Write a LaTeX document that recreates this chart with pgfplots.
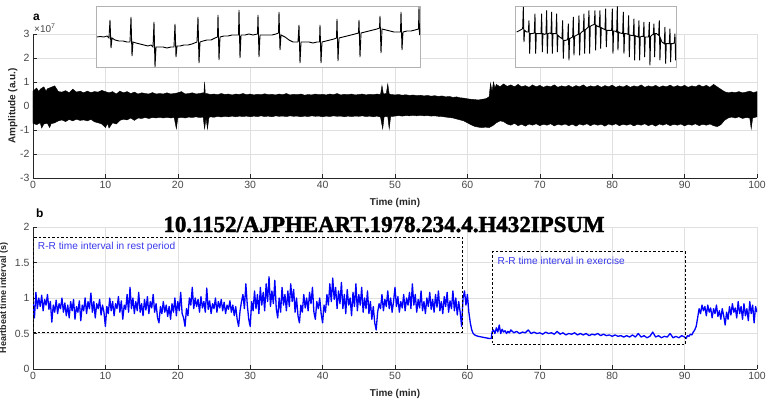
\documentclass[border=0pt]{standalone}
\usepackage{fontspec}
\setmainfont{Liberation Sans}
\newfontfamily\wmfont[BoldFeatures={FakeBold=1.8}]{Liberation Serif}
\usepackage{pgfplots}
\pgfplotsset{compat=1.18}
\definecolor{axgray}{gray}{0.15}
\definecolor{tickgray}{gray}{0.28}
\definecolor{gridgray}{gray}{0.88}
\definecolor{rrtext}{rgb}{0.22,0.22,0.92}
\definecolor{rrline}{rgb}{0,0,1}
\pgfplotsset{
 mainax/.style={scale only axis, width=724bp, xmin=0, xmax=100, xtick={0,10,...,100},
   axis x line*=bottom, axis y line*=left,
   axis line style={axgray, line width=0.5bp}, tick style={axgray, line width=0.5bp},
   tick align=inside, major tick length=4bp, grid=major, grid style={gridgray, line width=0.4bp},
   tick label style={font=\fontsize{10.5}{11}\selectfont, text=tickgray},
   /pgf/number format/assume math mode=true,
   label style={font=\bfseries\fontsize{10}{11}\selectfont, text=axgray},
   xlabel style={yshift=-3bp}},
 inset/.style={scale only axis, xtick=\empty, ytick=\empty, y dir=reverse,
   axis line style={gray!60, line width=0.6bp}, axis background/.style={fill=white}}
}
\begin{document}
\begin{tikzpicture}
\useasboundingbox (0,0) rectangle (768bp,-400bp);
% ---------------- panel a ----------------
\begin{axis}[mainax, at={(33bp,-178bp)}, anchor=south west, height=144bp,
  ymin=-3, ymax=3, ytick={-3,-2,-1,0,1,2,3},
  xlabel={Time (min)}, ylabel={Amplitude (a.u.)}, ylabel style={yshift=-4bp}]
\addplot[fill=black, draw=black, line width=0.4bp] coordinates {
(0,0.62)(0.5,0.75)(0.8,0.6)(1,0.7)(1.5,0.8)(1.8,0.62)(2,0.72)(2.5,0.78)(3,0.84)(3.5,0.6)(4,0.58)(4.5,0.64)(5,0.55)(5.5,0.7)(6,0.58)(6.5,0.62)(7,0.55)(7.5,0.62)(8,0.56)(8.5,0.6)(9,0.58)(9.5,0.65)(10,0.6)(10.5,0.55)(11,0.6)(11.5,0.5)(12,0.62)(12.5,0.55)(13,0.6)(13.5,0.52)(14,0.58)(14.5,0.5)(15,0.55)(15.5,0.52)(16,0.5)(16.5,0.56)(17,0.5)(17.5,0.52)(18,0.5)(18.5,0.55)(19,0.5)(19.5,0.52)(20,0.55)(20.5,0.6)(21,0.5)(21.5,0.52)(22,0.55)(22.5,0.5)(23,0.52)(23.5,0.55)(23.6,0.5)(23.7,1.0)(23.8,0.5)(24,0.52)(24.5,0.48)(25,0.5)(25.5,0.47)(26,0.52)(26.5,0.48)(27,0.5)(27.5,0.46)(28,0.5)(28.5,0.48)(29,0.52)(29.5,0.47)(30,0.5)(30.5,0.46)(31,0.49)(31.5,0.47)(32,0.51)(32.5,0.47)(33,0.49)(33.5,0.46)(34,0.5)(34.5,0.47)(35,0.52)(35.5,0.46)(36,0.49)(36.5,0.47)(37,0.5)(37.5,0.45)(38,0.48)(38.5,0.46)(39,0.5)(39.5,0.47)(40,0.49)(40.5,0.46)(41,0.5)(41.5,0.47)(42,0.52)(42.5,0.46)(43,0.49)(43.5,0.47)(44,0.5)(44.5,0.46)(45,0.48)(45.5,0.5)(46,0.46)(46.5,0.49)(47,0.47)(47.5,0.5)(48,0.48)(48.2,0.85)(48.4,0.5)(48.8,0.52)(49,0.92)(49.2,0.5)(49.5,0.48)(50,0.46)(50.5,0.48)(51,0.45)(51.5,0.47)(52,0.44)(52.5,0.46)(53,0.43)(53.5,0.45)(54,0.42)(54.5,0.44)(55,0.41)(55.5,0.43)(56,0.4)(56.5,0.42)(57,0.38)(57.5,0.4)(58,0.36)(58.5,0.38)(59,0.34)(59.5,0.33)(60,0.3)(60.5,0.28)(61,0.27)(61.5,0.25)(62,0.28)(62.5,0.3)(63,0.38)(63.2,0.95)(63.4,0.6)(63.6,1.0)(63.8,0.75)(64,0.9)(64.5,0.8)(65,0.92)(65.5,0.82)(66,0.88)(66.5,0.8)(67,0.9)(67.5,0.8)(68,0.85)(68.5,0.78)(69,0.88)(69.5,0.8)(70,0.86)(70.5,0.78)(71,0.84)(71.5,0.8)(72,0.88)(72.5,0.78)(73,0.84)(73.5,0.8)(74,0.86)(74.5,0.78)(75,0.85)(75.5,0.8)(76,0.88)(76.5,0.78)(77,0.84)(77.5,0.8)(78,0.86)(78.5,0.78)(79,0.85)(79.5,0.8)(80,0.87)(80.5,0.78)(81,0.84)(81.5,0.79)(82,0.86)(82.5,0.78)(83,0.84)(83.5,0.8)(84,0.88)(84.5,0.78)(85,0.84)(85.5,0.8)(86,0.86)(86.5,0.78)(87,0.84)(87.5,0.8)(88,0.87)(88.5,0.79)(89,0.85)(89.5,0.8)(90,0.86)(90.5,0.78)(91,0.84)(91.5,0.8)(92,0.88)(92.5,0.8)(93,0.86)(93.5,0.78)(94,0.9)(94.5,0.8)(95,0.7)(95.5,0.6)(96,0.55)(96.5,0.58)(97,0.56)(97.5,0.6)(98,0.55)(98.5,0.58)(99,0.62)(99.5,0.56)(100,0.6)} \closedcycle;
\addplot[fill=black, draw=black, line width=0.4bp] coordinates {
(0,-0.72)(0.5,-0.78)(1,-0.7)(1.2,-0.92)(1.5,-0.75)(2,-0.72)(2.3,-0.9)(2.5,-0.74)(3,-0.7)(3.5,-0.62)(4,-0.58)(4.5,-0.65)(5,-0.56)(5.5,-0.62)(6,-0.55)(6.5,-0.6)(7,-0.58)(7.5,-0.62)(8,-0.56)(8.5,-0.66)(9,-0.7)(9.5,-0.75)(10,-0.9)(10.3,-0.72)(10.5,-0.92)(11,-0.7)(11.5,-0.75)(12,-0.6)(12.5,-0.55)(13,-0.58)(13.5,-0.5)(14,-0.6)(14.5,-0.5)(15,-0.52)(15.5,-0.48)(16,-0.52)(16.5,-0.48)(17,-0.5)(17.5,-0.47)(18,-0.5)(18.5,-0.47)(19,-0.5)(19.5,-0.48)(19.8,-0.95)(20,-0.5)(20.5,-0.47)(21,-0.5)(21.5,-0.46)(22,-0.48)(22.5,-0.45)(23,-0.48)(23.5,-0.46)(23.7,-0.95)(23.9,-0.5)(24.1,-0.95)(24.3,-0.48)(24.5,-0.45)(25,-0.47)(25.5,-0.43)(26,-0.46)(26.5,-0.43)(27,-0.45)(27.5,-0.42)(28,-0.45)(28.5,-0.42)(29,-0.44)(29.5,-0.42)(30,-0.45)(30.5,-0.42)(31,-0.44)(31.5,-0.41)(32,-0.44)(32.5,-0.42)(33,-0.45)(33.5,-0.41)(34,-0.43)(34.5,-0.42)(35,-0.44)(35.5,-0.41)(36,-0.43)(36.5,-0.42)(37,-0.45)(37.5,-0.42)(38,-0.44)(38.5,-0.41)(39,-0.43)(39.5,-0.42)(40,-0.45)(40.5,-0.42)(41,-0.44)(41.5,-0.41)(42,-0.43)(42.5,-0.42)(43,-0.45)(43.5,-0.42)(44,-0.44)(44.5,-0.42)(45,-0.43)(45.5,-0.41)(46,-0.44)(46.5,-0.42)(47,-0.45)(47.5,-0.42)(48,-0.46)(48.3,-0.95)(48.5,-0.45)(49,-0.44)(49.2,-0.95)(49.4,-0.44)(50,-0.42)(50.5,-0.4)(51,-0.42)(51.5,-0.4)(52,-0.41)(52.5,-0.39)(53,-0.41)(53.5,-0.39)(54,-0.41)(54.5,-0.4)(55,-0.42)(55.5,-0.41)(56,-0.43)(56.5,-0.44)(57,-0.46)(57.5,-0.48)(58,-0.5)(58.5,-0.54)(59,-0.58)(59.5,-0.62)(60,-0.7)(60.5,-0.78)(61,-0.85)(61.5,-0.88)(62,-0.9)(62.5,-0.88)(63,-0.9)(63.5,-0.82)(64,-0.7)(64.5,-0.62)(65,-0.65)(65.5,-0.75)(66,-0.8)(66.5,-0.72)(67,-0.82)(67.5,-0.76)(68,-0.84)(68.5,-0.75)(69,-0.8)(69.5,-0.74)(70,-0.82)(70.5,-0.76)(71,-0.8)(71.5,-0.74)(72,-0.83)(72.5,-0.76)(73,-0.8)(73.5,-0.75)(74,-0.82)(74.5,-0.76)(75,-0.84)(75.5,-0.75)(76,-0.8)(76.5,-0.74)(77,-0.82)(77.5,-0.75)(78,-0.8)(78.5,-0.76)(79,-0.84)(79.5,-0.75)(80,-0.8)(80.5,-0.74)(81,-0.82)(81.5,-0.76)(82,-0.8)(82.5,-0.75)(83,-0.83)(83.5,-0.76)(84,-0.8)(84.5,-0.74)(85,-0.82)(85.5,-0.76)(86,-0.84)(86.5,-0.75)(87,-0.8)(87.5,-0.74)(88,-0.82)(88.5,-0.76)(89,-0.8)(89.5,-0.75)(90,-0.83)(90.5,-0.76)(91,-0.8)(91.5,-0.74)(92,-0.82)(92.5,-0.76)(93,-0.8)(93.5,-0.75)(94,-0.82)(94.5,-0.86)(95,-0.78)(95.5,-0.6)(96,-0.5)(96.5,-0.46)(97,-0.5)(97.5,-0.45)(98,-0.52)(98.5,-0.48)(99,-0.5)(99.2,-0.95)(99.4,-0.5)(100,-0.45)} \closedcycle;
\end{axis}
% ---------------- inset 1 ----------------
\begin{axis}[inset, at={(258bp,-36.5bp)}, anchor=center, width=324bp, height=61bp,
  xmin=96, xmax=420, ymin=6, ymax=67]
\addplot[black, line width=0.9bp] coordinates {
(97,37)(100,36.5)(104,37)(107,36)(109,38)(110,20)(111,48)(112,38)
(115,40)(119,41)(123,41)(127,42)(130,42)(131,17)(132,56)(133,42)
(136,43)(140,44)(144,45)(148,46)(151,45)(153,47)(154,22)(155,67)(156,47)
(159,47)(163,47)(167,48)(171,47)(174,47)(175,24)(176,57)(177,46)
(180,46)(184,45)(188,45)(192,44)(197,42)(198,17)(199,63)(200,42)
(203,41)(207,40)(211,40)(215,38)(217.5,37)(218,15)(219,60)(220,37)
(224,36)(228,36)(232,35)(236,35)(238.5,35)(239,10)(240,58)(241,35)
(245,35)(249,34)(253,35)(257.5,34)(258,15)(259,57)(260,35)
(264,35)(268,35)(272,35)(276,34)(278.5,33)(279,12)(280,50)(281,35)
(285,37)(289,40)(293,42)(298,42)(299,25)(300,63)(301,42)
(305,42)(309,42)(313,43)(317,42)(319.5,42)(320,25)(321,63)(322,42)
(326,41)(330,40)(334,39)(336.5,38)(337,19)(338,61)(339,38)
(343,37)(347,36)(351,35)(355,34)(358.5,33)(359,20)(360,57)(361,33)
(365,32)(369,31)(373,30)(377,29)(379.5,28)(380,16)(381,53)(382,29)
(386,30)(390,31)(394,32)(398,32)(400.5,32)(401,12)(402,50)(403,32)
(407,31)(411,31)(415,30)(418.5,29)(419,7)(419.5,35)(420,28)};
\end{axis}
% ---------------- inset 2 ----------------
\begin{axis}[inset, at={(595.8bp,-36.5bp)}, anchor=center, width=160.3bp, height=61bp,
  xmin=407, xmax=888, ymin=17, ymax=200]
\addplot[black, line width=0.9bp] coordinates {
(410,95)(420,90)(428,85)(430,20)(432,125)(434,90)(440,95)(445,95)
(447,60)(449,160)(451,100)(456,100)(463,98)(465,40)(467,160)(469,100)
(475,100)(483,100)(485,40)(487,155)(489,100)(494,102)(498,100)
(500,30)(502,160)(504,100)(509,98)(513,100)(515,35)(517,160)(519,100)
(524,100)(528,100)(530,40)(532,155)(534,105)(539,110)(546,115)
(548,60)(550,175)(552,120)(557,120)(563,118)(565,70)(567,180)(569,115)
(574,112)(578,110)(580,50)(582,165)(584,108)(589,105)(595,102)
(597,45)(599,165)(601,100)(605,95)(610,92)(612,40)(614,160)(616,88)
(620,85)(625,80)(627,30)(629,160)(631,78)(636,75)(643,72)
(645,30)(647,150)(649,75)(653,78)(658,80)(660,30)(662,145)(664,82)
(669,85)(675,88)(677,25)(679,140)(681,90)(686,90)(695,90)
(697,25)(699,160)(701,92)(705,92)(710,95)(712,18)(714,150)(716,95)
(721,98)(728,100)(730,35)(732,160)(734,100)(739,100)(744,102)
(746,45)(748,170)(750,104)(754,105)(760,106)(762,55)(764,180)(766,106)
(770,108)(775,110)(777,60)(779,180)(781,110)(785,108)(790,108)
(792,65)(794,170)(796,110)(800,110)(806,110)(808,65)(810,195)(812,108)
(816,104)(820,102)(822,70)(824,170)(826,100)(830,100)(836,105)
(838,60)(840,180)(842,115)(846,125)(853,130)(855,80)(857,190)(859,130)
(863,130)(868,130)(870,85)(872,185)(874,130)(878,130)(883,128)
(885,100)(887,180)(888,130)};
\end{axis}
% ---------------- panel b ----------------
\begin{axis}[mainax, at={(33bp,-369bp)}, anchor=south west, height=142bp,
  ymin=0, ymax=2, ytick={0,0.5,1,1.5,2},
  xlabel={Time (min)}, ylabel={Heartbeat time interval (s)},
  ylabel style={font=\bfseries\fontsize{9}{10}\selectfont}]
\addplot[rrline, line width=1.3bp, line join=round] coordinates {
(0.0,0.95)(0.2,0.72)(0.4,1.08)(0.6,0.85)(0.8,1.0)(1.0,0.88)(1.2,1.04)(1.4,0.82)(1.6,0.98)(1.8,0.9)
(2.0,1.05)(2.2,0.84)(2.4,0.95)(2.6,0.66)(2.8,0.9)(3.0,0.8)(3.2,0.97)(3.4,0.78)(3.6,0.92)(3.8,0.85)
(4.0,1.0)(4.2,0.8)(4.4,0.93)(4.6,0.75)(4.8,0.9)(5.0,0.72)(5.2,0.95)(5.4,0.82)(5.6,0.98)(5.8,0.7)
(6.0,0.88)(6.2,0.8)(6.4,0.96)(6.6,0.68)(6.8,0.9)(7.0,0.82)(7.2,1.0)(7.4,0.78)(7.6,0.95)(7.8,0.85)
(8.0,1.07)(8.2,0.8)(8.4,0.95)(8.6,0.72)(8.8,0.92)(9.0,0.85)(9.2,0.98)(9.4,0.76)(9.6,0.9)(9.8,0.8)
(10.0,0.6)(10.2,0.88)(10.4,0.78)(10.6,1.0)(10.8,0.82)(11.0,0.95)(11.2,0.75)(11.4,0.92)(11.6,0.85)(11.8,1.02)
(12.0,0.8)(12.2,0.96)(12.4,0.7)(12.6,0.9)(12.8,0.84)(13.0,1.05)(13.2,0.8)(13.4,1.15)(13.6,0.85)(13.8,1.0)
(14.0,0.78)(14.2,0.95)(14.4,0.82)(14.6,1.08)(14.8,0.8)(15.0,0.92)(15.2,0.75)(15.4,0.98)(15.6,0.83)(15.8,1.02)
(16.0,0.78)(16.2,0.95)(16.4,0.86)(16.6,1.05)(16.8,0.8)(17.0,0.92)(17.2,0.72)(17.4,0.65)(17.6,0.88)(17.8,0.78)
(18.0,0.95)(18.2,0.8)(18.4,0.9)(18.6,0.74)(18.8,0.88)(19.0,0.7)(19.2,0.92)(19.4,0.8)(19.6,1.0)(19.8,0.75)
(20.0,0.95)(20.2,0.82)(20.4,1.08)(20.6,0.78)(20.8,0.72)(21.0,0.6)(21.2,0.85)(21.4,0.75)(21.6,1.0)(21.8,0.9)
(22.0,1.15)(22.2,0.85)(22.4,1.0)(22.6,0.88)(22.8,0.98)(23.0,0.8)(23.2,1.02)(23.4,0.86)(23.6,0.95)(23.8,0.8)
(24.0,1.14)(24.2,0.84)(24.4,0.96)(24.6,0.78)(24.8,0.92)(25.0,0.85)(25.2,1.0)(25.4,0.8)(25.6,0.95)(25.8,0.86)
(26.0,0.98)(26.2,0.82)(26.4,0.94)(26.6,0.78)(26.8,0.9)(27.0,0.84)(27.2,0.96)(27.4,0.8)(27.6,0.9)(27.8,0.75)
(28.0,0.88)(28.2,0.7)(28.4,0.6)(28.6,0.82)(28.8,0.95)(29.0,1.05)(29.2,0.85)(29.4,1.2)(29.6,0.9)(29.8,0.7)
(30.0,0.6)(30.2,0.95)(30.4,0.82)(30.6,1.1)(30.8,0.85)(31.0,1.05)(31.2,0.78)(31.4,1.15)(31.6,0.9)(31.8,1.08)
(32.0,0.82)(32.2,1.2)(32.4,0.95)(32.6,1.3)(32.8,0.88)(33.0,1.1)(33.2,0.92)(33.4,1.25)(33.6,0.85)(33.8,0.72)
(34.0,1.0)(34.2,0.8)(34.4,1.15)(34.6,0.9)(34.8,1.05)(35.0,0.82)(35.2,1.1)(35.4,0.88)(35.6,1.2)(35.8,0.95)
(36.0,1.12)(36.2,0.8)(36.4,1.0)(36.6,0.75)(36.8,0.65)(37.0,0.9)(37.2,0.8)(37.4,1.05)(37.6,0.86)(37.8,1.0)
(38.0,0.82)(38.2,1.08)(38.4,0.92)(38.6,1.15)(38.8,0.8)(39.0,0.7)(39.2,0.95)(39.4,0.85)(39.6,1.0)(39.8,0.78)
(40.0,0.65)(40.2,0.9)(40.4,0.8)(40.6,1.05)(40.8,0.9)(41.0,1.2)(41.2,0.95)(41.4,1.28)(41.6,0.98)(41.8,1.15)
(42.0,0.85)(42.2,1.1)(42.4,0.92)(42.6,1.22)(42.8,0.85)(43.0,1.05)(43.2,0.78)(43.4,1.12)(43.6,0.9)(43.8,1.0)
(44.0,0.75)(44.2,1.08)(44.4,0.88)(44.6,1.2)(44.8,0.82)(45.0,1.05)(45.2,0.9)(45.4,1.15)(45.6,0.8)(45.8,1.0)
(46.0,0.85)(46.2,1.1)(46.4,0.78)(46.6,0.95)(46.8,0.7)(47.0,0.88)(47.2,0.65)(47.4,0.55)(47.6,0.8)(47.8,0.92)
(48.0,0.85)(48.2,1.05)(48.4,0.82)(48.6,0.98)(48.8,0.88)(49.0,1.1)(49.2,0.85)(49.4,1.0)(49.6,0.8)(49.8,0.95)
(50.0,1.15)(50.2,0.88)(50.4,1.02)(50.6,0.8)(50.8,0.95)(51.0,0.86)(51.2,1.05)(51.4,0.82)(51.6,1.0)(51.8,0.9)
(52.0,1.08)(52.2,0.85)(52.4,1.2)(52.6,0.9)(52.8,1.05)(53.0,0.8)(53.2,0.98)(53.4,0.86)(53.6,1.1)(53.8,0.82)
(54.0,0.95)(54.2,0.78)(54.4,1.0)(54.6,0.88)(54.8,1.08)(55.0,0.84)(55.2,0.98)(55.4,0.8)(55.6,1.05)(55.8,0.87)
(56.0,1.1)(56.2,0.82)(56.4,0.95)(56.6,0.78)(56.8,1.02)(57.0,0.88)(57.2,1.08)(57.4,0.8)(57.6,0.96)(57.8,0.85)
(58.0,1.1)(58.2,0.82)(58.4,1.0)(58.6,0.76)(58.8,0.95)(59.0,0.8)(59.2,0.6)(59.4,1.0)(59.6,1.1)(59.8,0.9)
(60.0,1.05)(60.2,0.8)(60.4,0.65)(60.6,0.55)(60.8,0.5)(61.0,0.48)(61.2,0.47)(61.5,0.46)(62.0,0.45)(62.5,0.44)
(63.0,0.43)(63.3,0.43)(63.4,0.52)(63.6,0.55)(63.8,0.5)(64.0,0.58)(64.2,0.52)(64.4,0.62)(64.6,0.5)(64.8,0.56)
(65.0,0.52)(65.2,0.54)(65.4,0.5)(65.6,0.53)(65.8,0.51)(66.0,0.55)(66.4,0.51)(66.8,0.53)(67.2,0.5)(67.6,0.52)
(68.0,0.51)(68.4,0.55)(68.8,0.5)(69.2,0.52)(69.6,0.5)(70.0,0.51)(70.4,0.49)(70.8,0.52)(71.2,0.5)(71.6,0.51)
(72.0,0.49)(72.4,0.53)(72.8,0.49)(73.2,0.51)(73.6,0.48)(74.0,0.5)(74.4,0.49)(74.8,0.51)(75.2,0.48)(75.6,0.5)
(76.0,0.48)(76.4,0.5)(76.8,0.47)(77.2,0.49)(77.6,0.48)(78.0,0.5)(78.4,0.47)(78.8,0.49)(79.2,0.47)(79.6,0.48)
(80.0,0.46)(80.4,0.48)(80.8,0.46)(81.2,0.47)(81.6,0.45)(82.0,0.47)(82.4,0.45)(82.8,0.48)(83.2,0.45)(83.6,0.5)
(84.0,0.45)(84.4,0.47)(84.8,0.44)(85.2,0.46)(85.6,0.52)(86.0,0.45)(86.4,0.47)(86.8,0.44)(87.2,0.46)(87.6,0.45)
(88.0,0.5)(88.4,0.44)(88.8,0.46)(89.2,0.44)(89.6,0.47)(90.0,0.45)(90.2,0.43)(90.4,0.47)(90.6,0.46)(90.8,0.49)
(91.0,0.48)(91.2,0.52)(91.4,0.55)(91.6,0.6)(91.8,0.72)(92.0,0.85)(92.2,0.78)(92.4,0.9)(92.6,0.82)(92.8,0.88)
(93.0,0.75)(93.2,0.9)(93.4,0.8)(93.6,0.86)(93.8,0.72)(94.0,0.85)(94.2,0.78)(94.4,0.9)(94.6,0.74)(94.8,0.82)
(95.0,0.7)(95.2,0.85)(95.4,0.75)(95.6,0.62)(95.8,0.8)(96.0,0.7)(96.2,0.88)(96.4,0.76)(96.6,0.92)(96.8,0.8)
(97.0,0.86)(97.2,0.72)(97.4,0.95)(97.6,0.78)(97.8,0.88)(98.0,0.7)(98.2,0.92)(98.4,0.75)(98.6,0.85)(98.8,0.68)
(99.0,0.95)(99.2,0.78)(99.4,0.9)(99.6,0.65)(99.8,0.88)(100.0,0.8)};
\addplot[black, line width=1bp, dash pattern=on 2.5bp off 2bp] coordinates {
(0,0.52)(59.3,0.52)(59.3,1.85)(0,1.85)(0,0.52)};
\addplot[black, line width=1bp, dash pattern=on 2.5bp off 2bp] coordinates {
(63.5,0.34)(90.1,0.34)(90.1,1.65)(63.5,1.65)(63.5,0.34)};
\node[anchor=west, text=rrtext, font=\fontsize{10.2}{11}\selectfont] at (axis cs:0.2,1.72) {R-R time interval in rest period};
\node[anchor=west, text=rrtext, font=\fontsize{10.2}{11}\selectfont] at (axis cs:63.7,1.53) {R-R time interval in exercise};
\end{axis}
% ---------------- annotations ----------------
\node[anchor=base west, font=\bfseries\fontsize{12}{13}\selectfont, inner sep=0] at (33bp,-20bp) {a};
\node[anchor=base west, font=\fontsize{10}{11}\selectfont, text=tickgray, inner sep=0] at (34bp,-32bp) {×10\textsuperscript{7}};
\node[anchor=base west, font=\bfseries\fontsize{12}{13}\selectfont, inner sep=0] at (36bp,-217bp) {b};
\node[anchor=base, font=\wmfont\bfseries\fontsize{23}{24}\selectfont, inner sep=0] at (384bp,-232bp) {10.1152/AJPHEART.1978.234.4.H432IPSUM};
\end{tikzpicture}
\end{document}
